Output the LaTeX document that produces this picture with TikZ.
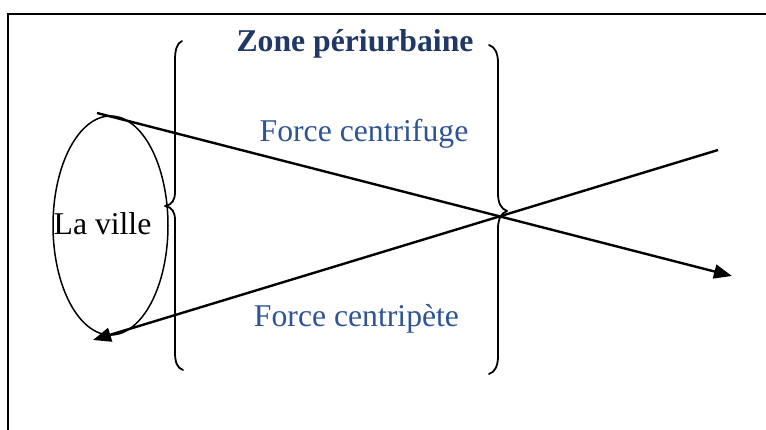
\documentclass[tikz,border=0pt]{standalone}
\usepackage{fontspec}
\setmainfont{Liberation Serif}
\usetikzlibrary{arrows.meta,shapes.geometric}
\definecolor{navy}{HTML}{1F3864}
\definecolor{wordblue}{HTML}{2F5496}
\tikzset{
  bigtext/.style={font=\fontsize{31.7}{38}\selectfont, inner sep=0pt, anchor=base},
  brace/.style={line width=1.8pt, line join=round, line cap=round},
  forcearrow/.style={line width=2.4pt, -{Triangle[length=18pt,width=14pt]}},
  frameline/.style={line width=2.2pt}
}
\begin{document}
\begin{tikzpicture}[x=1pt,y=-1pt]
\useasboundingbox (0,0) rectangle (766,430);
\fill[white] (0,0) rectangle (766,430);
% frame
\draw[frameline] (8,432) -- (8,14) -- (768,14);
% city ellipse
\node[draw, ellipse, minimum width=115pt, minimum height=219pt, inner sep=0pt, line width=1.5pt] (city) at (110.5,225.5) {};
\node[bigtext] (villelabel) at (102.5,235) {La ville};
% texts
\node[bigtext, text=navy, font=\fontsize{31.7}{38}\selectfont\bfseries] (zone) at (355,52) {Zone périurbaine};
\node[bigtext, text=wordblue] (fuge) at (364,142) {Force centrifuge};
\node[bigtext, text=wordblue] (pete) at (356.5,327) {Force centripète};
% left brace
\draw[brace] (182,41) .. controls (177,43) and (175,50) .. (175,60) -- (175,192)
  .. controls (175,200) and (172,205) .. (165,206)
  .. controls (172,207) and (175,212) .. (175,220) -- (175,352)
  .. controls (175,362) and (177,368) .. (183,370);
% right brace
\draw[brace] (489,45) .. controls (495,47) and (498,53) .. (498,63) -- (498,193)
  .. controls (498,203) and (501,209) .. (507,211)
  .. controls (501,213) and (498,219) .. (498,229) -- (498,356)
  .. controls (498,366) and (495,372) .. (489,374);
% arrows
\coordinate (c1s) at (97,113);
\coordinate (c1e) at (732,276);
\coordinate (c2s) at (718,150);
\coordinate (c2e) at (93,340);
\draw[forcearrow] (c1s) -- (c1e);
\draw[forcearrow] (c2s) -- (c2e);
\end{tikzpicture}
\end{document}
